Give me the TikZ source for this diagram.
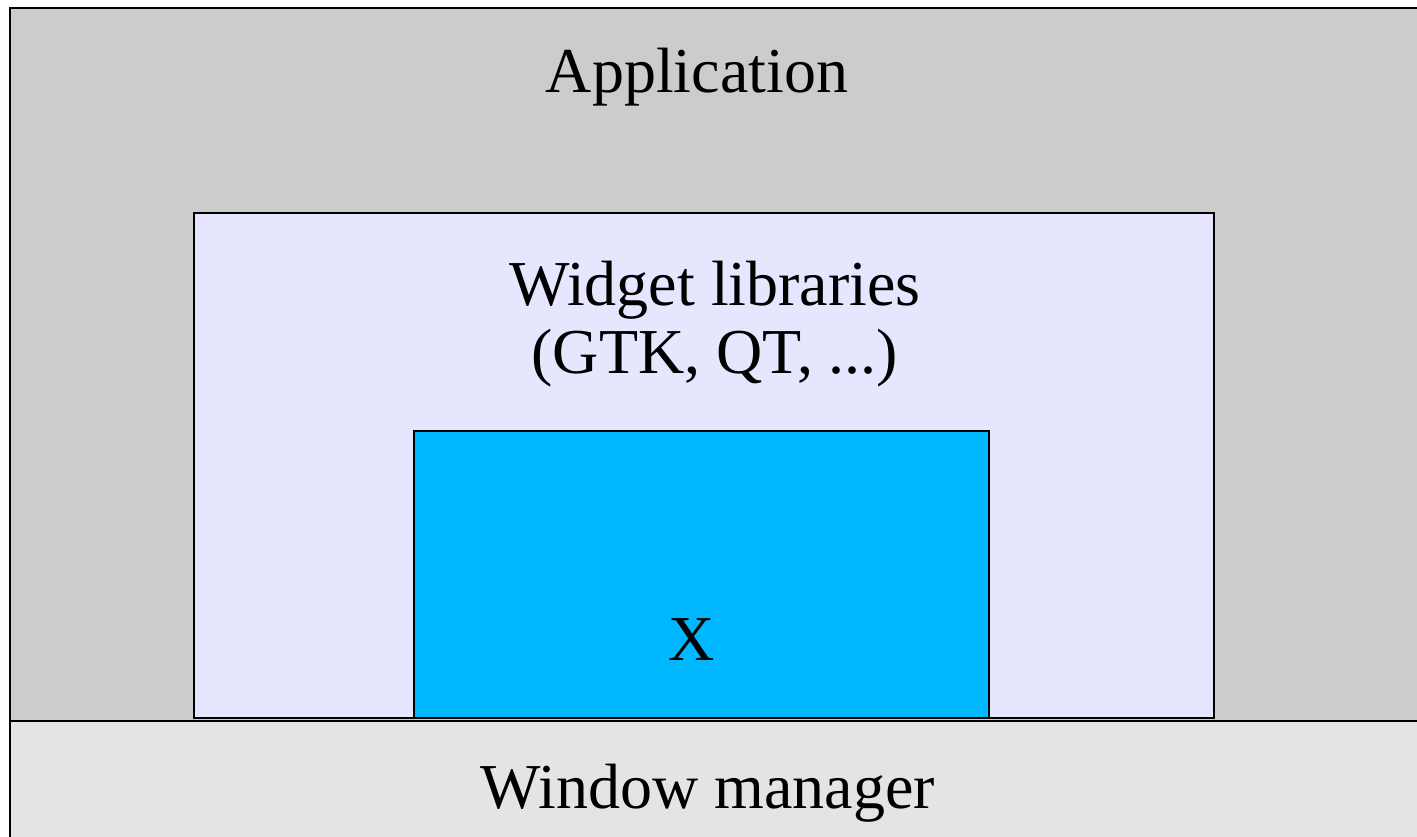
\documentclass[tikz,border=0pt]{standalone}
\usepackage{fontspec}
\setmainfont{Liberation Serif}
\definecolor{appgray}{HTML}{CCCCCC}
\definecolor{wmgray}{HTML}{E4E4E4}
\definecolor{widgetblue}{HTML}{E6E6FF}
\definecolor{xblue}{HTML}{00B8FF}
\tikzset{
  layer/.style={draw=black, line width=2.5pt, inner sep=0pt, outer sep=0pt, anchor=north west},
  label/.style={inner sep=0pt, anchor=base, font=\fontsize{64}{68}\selectfont}
}
\begin{document}
\begin{tikzpicture}[x=1pt, y=-1pt]
\useasboundingbox (0,0) rectangle (1417,836);
\clip (0,0) rectangle (1417,836);
\node[layer, fill=appgray, minimum width=1425pt, minimum height=713pt] (app) at (10,8) {};
\node[layer, fill=wmgray, minimum width=1425pt, minimum height=140pt] (wm) at (10,721) {};
\node[layer, fill=widgetblue, minimum width=1020pt, minimum height=505pt] (widget) at (194,213) {};
\node[layer, fill=xblue, minimum width=575pt, minimum height=287pt] (xbox) at (414,431) {};
\node[label] (apptext) at (697,92) {Application};
\node[label] (widgettext1) at (715,305) {Widget libraries};
\node[label] (widgettext2) at (715,373) {(GTK, QT, ...)};
\node[label] (xtext) at (692,660) {X};
\node[label] (wmtext) at (708,808) {Window manager};
\end{tikzpicture}
\end{document}
